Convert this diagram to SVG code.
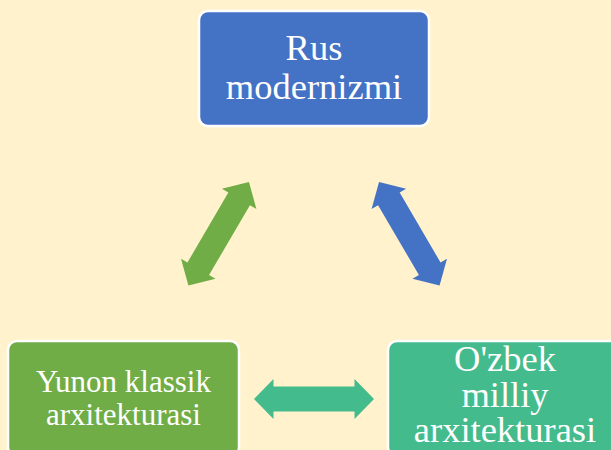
<svg xmlns="http://www.w3.org/2000/svg" width="611" height="450" viewBox="0 0 611 450">
  <defs>
    <style>
      .box { stroke: #ffffff; stroke-width: 2.5; }
      .lbl { font-family: "Liberation Serif", "Times New Roman", serif; fill: #ffffff; text-anchor: middle; }
    </style>
    <path id="dblarrow" d="M -60 0 L -40.5 -20 L -40.5 -12.5 L 40.5 -12.5 L 40.5 -20 L 60 0 L 40.5 20 L 40.5 12.5 L -40.5 12.5 L -40.5 20 Z"/>
  </defs>
  <rect x="0" y="0" width="611" height="450" fill="#FFF2CC"/>
  <g id="connectors">
    <use href="#dblarrow" fill="#70AD47" transform="translate(218.7,233.8) rotate(-59.7)"/>
    <use href="#dblarrow" fill="#4472C4" transform="translate(409.3,233.8) rotate(59.7)"/>
    <use href="#dblarrow" fill="#44BB8C" transform="translate(314,399)"/>
  </g>
  <g id="node-rus">
    <rect class="box" x="199" y="11" width="230" height="115" rx="9" fill="#4472C4"/>
    <text class="lbl" x="314" y="60" font-size="36.5">Rus</text>
    <text class="lbl" x="314" y="99" font-size="36.5">modernizmi</text>
  </g>
  <g id="node-yunon">
    <rect class="box" x="8" y="341" width="231" height="115" rx="9" fill="#70AD47"/>
    <text class="lbl" x="123.5" y="392" font-size="31">Yunon klassik</text>
    <text class="lbl" x="123.5" y="425" font-size="31">arxitekturasi</text>
  </g>
  <g id="node-ozbek">
    <rect class="box" x="388" y="341" width="231" height="115" rx="9" fill="#44BB8C"/>
    <text class="lbl" x="505" y="371" font-size="36.5">O'zbek</text>
    <text class="lbl" x="505" y="406.5" font-size="36.5">milliy</text>
    <text class="lbl" x="505" y="442" font-size="36.5">arxitekturasi</text>
  </g>
</svg>
